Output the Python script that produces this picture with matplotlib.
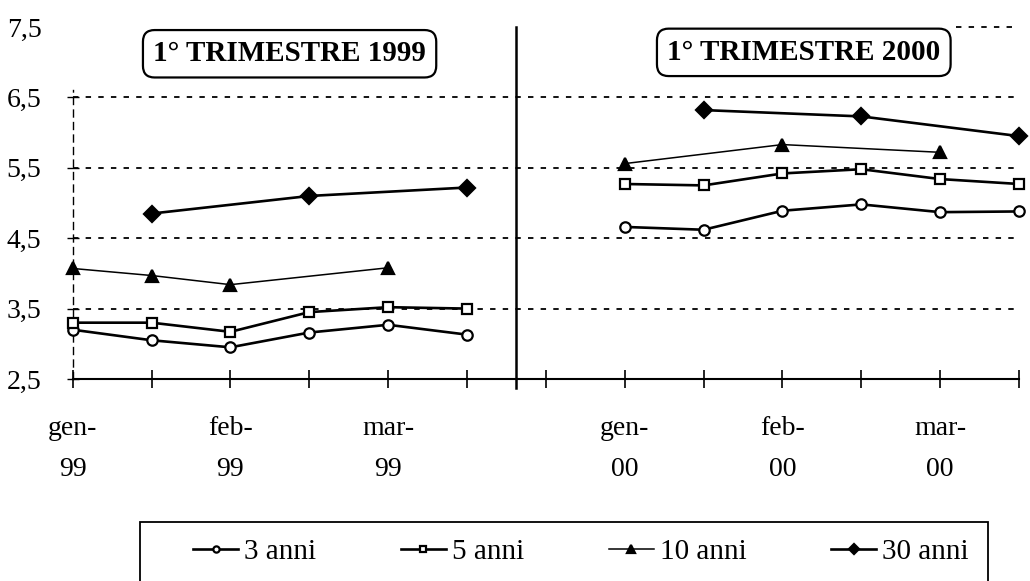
import matplotlib.pyplot as plt
from matplotlib.patches import Rectangle
import numpy as np

plt.rcParams['font.family'] = ['Liberation Serif', 'DejaVu Serif']

# posizioni sull'asse: 1999 a sinistra, 2000 a destra
pos_99 = [0, 1, 2, 3, 4, 5]
pos_00 = [7, 8, 9, 10, 11, 12]

# rendimenti (None = nessun punto)
anni3_99 = [3.20, 3.05, 2.95, 3.16, 3.27, 3.13]
anni5_99 = [3.30, 3.30, 3.17, 3.45, 3.52, 3.50]
anni10_99 = [4.07, 3.97, 3.84, None, 4.08, None]
anni30_99 = [None, 4.85, None, 5.10, None, 5.22]

anni3_00 = [4.66, 4.62, 4.89, 4.98, 4.87, 4.88]
anni5_00 = [5.27, 5.25, 5.42, 5.48, 5.34, 5.27]
anni10_00 = [5.56, None, 5.83, None, 5.72, None]
anni30_00 = [None, 6.32, None, 6.23, None, 5.95]

tick_pos = [0, 2, 4, 7, 9, 11]
tick_labels = ['gen-\n99', 'feb-\n99', 'mar-\n99', 'gen-\n00', 'feb-\n00', 'mar-\n00']
y_ticks = [2.5, 3.5, 4.5, 5.5, 6.5, 7.5]
y_labels = ['2,5', '3,5', '4,5', '5,5', '6,5', '7,5']


def valid(xs, ys):
    pts = [(x, y) for x, y in zip(xs, ys) if y is not None]
    return [p[0] for p in pts], [p[1] for p in pts]


fig = plt.figure(figsize=(10.30, 5.81), dpi=100)
ax = fig.add_axes([0.0706, 0.3477, 0.9188, 0.6058])
ax.set_xlim(0, 12)
ax.set_ylim(2.5, 7.5)

# griglia tratteggiata
for yv in [3.5, 4.5, 5.5, 6.5]:
    ax.plot([0, 12], [yv, yv], color='black', lw=1.3, ls=(0, (3, 4)), zorder=1)
ax.plot([11.2, 12], [7.5, 7.5], color='black', lw=1.3, ls=(0, (3, 4)), zorder=1, clip_on=False)

series = [
    ('3 anni', anni3_99, anni3_00, 'o', 'white', 7.5, 1.9),
    ('5 anni', anni5_99, anni5_00, 's', 'white', 7.5, 1.9),
    ('10 anni', anni10_99, anni10_00, '^', 'black', 8.5, 1.1),
    ('30 anni', anni30_99, anni30_00, 'D', 'black', 8, 1.9),
]
for name, v99, v00, mk, fc, ms, lw in series:
    x, y = valid(pos_99, v99)
    ax.plot(x, y, color='black', lw=lw, marker=mk, ms=ms, mfc=fc, mec='black',
            mew=1.6, label=name, clip_on=False, zorder=3)
    x, y = valid(pos_00, v00)
    ax.plot(x, y, color='black', lw=lw, marker=mk, ms=ms, mfc=fc, mec='black',
            mew=1.6, clip_on=False, zorder=3)

# separatore tra i due trimestri
ax.axvline(5.62, ymin=-0.026, ymax=1, color='black', lw=1.8, clip_on=False)

# assi
for s in ['top', 'right']:
    ax.spines[s].set_visible(False)
ax.spines['bottom'].set_linewidth(1.5)
ax.spines['left'].set_linewidth(1.0)
ax.spines['left'].set_linestyle((0, (5, 4)))
ax.spines['left'].set_bounds(2.5, 6.6)

ax.set_xticks(range(13))
ax.set_xticklabels([tick_labels[tick_pos.index(i)] if i in tick_pos else '' for i in range(13)])
ax.tick_params(axis='x', direction='inout', length=13, width=1.2, pad=20,
               labelsize=20)
for t in ax.get_xticklabels():
    t.set_linespacing(1.85)
ax.set_yticks(y_ticks)
ax.set_yticklabels(y_labels)
ax.tick_params(axis='y', direction='inout', length=9, width=1.0, pad=18,
               labelsize=20)
ax.yaxis.get_major_ticks()[-1].tick1line.set_visible(False)

# titoli dei trimestri
box = dict(boxstyle='round,pad=0.35,rounding_size=0.4', fc='white', ec='black', lw=1.6)
ax.text(2.75, 7.12, '1° TRIMESTRE 1999', ha='center', va='center', fontsize=21,
        fontweight='bold', bbox=box, zorder=5)
ax.text(9.27, 7.14, '1° TRIMESTRE 2000', ha='center', va='center', fontsize=21,
        fontweight='bold', bbox=box, zorder=5)

# legenda
fig.patches.append(Rectangle((140 / 1030, -0.05), (988 - 140) / 1030, 0.05 + (581 - 522) / 581,
                             transform=fig.transFigure, fill=False, ec='black', lw=1.3))
fig.legend(loc='center', bbox_to_anchor=(0.564, 0.05), ncol=4, frameon=False,
           fontsize=21, markerscale=0.6, handlelength=1.55, handletextpad=0.2,
           columnspacing=2.9)

fig.savefig('out.png', dpi=100)
